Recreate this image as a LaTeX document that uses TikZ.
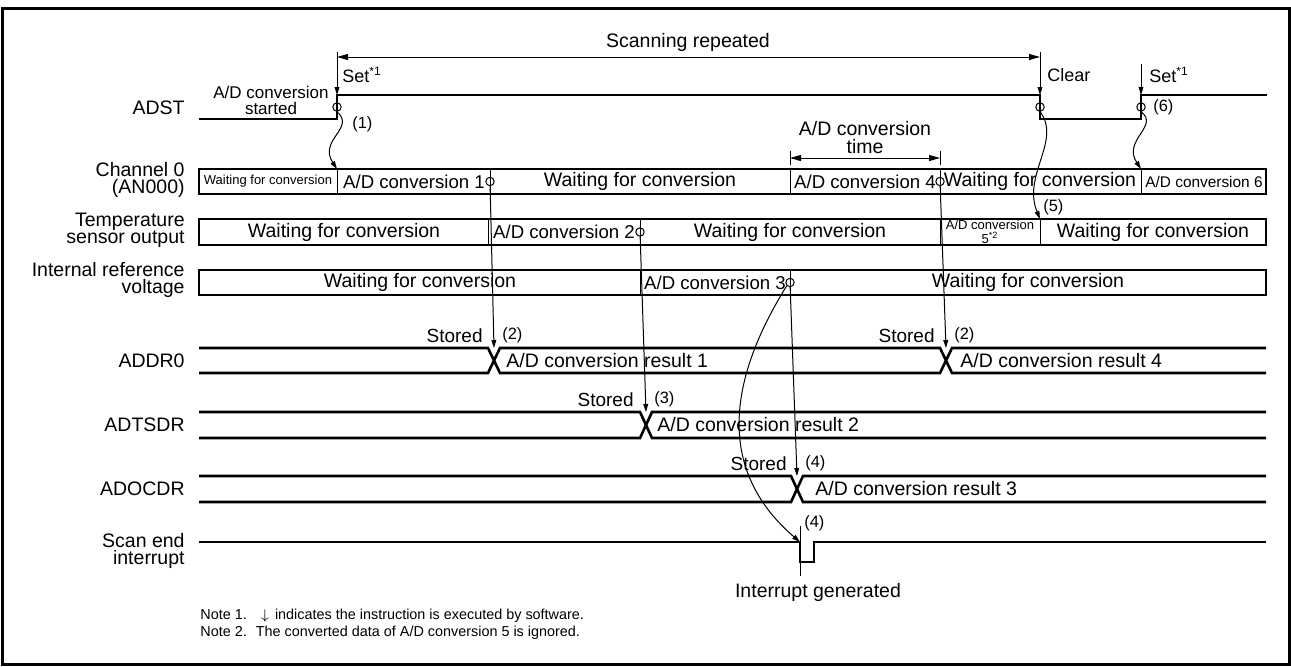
\documentclass[tikz,border=0pt]{standalone}
\usepackage{fontspec}
\setmainfont{Liberation Sans}
\usetikzlibrary{arrows.meta,positioning}
\tikzset{
  sig/.style={line width=1.3pt},
  lane/.style={draw,line width=1.3pt},
  div/.style={line width=0.5pt},
  ring/.style={circle,draw,line width=0.5pt,inner sep=0pt,minimum size=4.2pt},
  fl/.style={-{Triangle[length=4pt,width=2.4pt]},line width=0.5pt},
  dimspan/.style={{Triangle[length=5.5pt,width=3pt]}-{Triangle[length=5.5pt,width=3pt]},line width=0.5pt},
  sname/.style={anchor=east,align=right,inner sep=0pt,font=\fontsize{9.75}{8.5}\selectfont},
  tbig/.style={inner sep=0pt,font=\fontsize{9.75}{9}\selectfont},
  tmid/.style={inner sep=0pt,font=\fontsize{9.3}{11}\selectfont},
  tsml/.style={inner sep=0pt,font=\fontsize{6.5}{5.5}\selectfont,align=center},
  tnum/.style={inner sep=0pt,font=\fontsize{8.2}{10}\selectfont,anchor=west},
  tset/.style={inner sep=0pt,font=\fontsize{9}{10}\selectfont,anchor=west},
  tstore/.style={inner sep=0pt,font=\fontsize{9.5}{10}\selectfont,anchor=east},
  tnote/.style={inner sep=0pt,font=\fontsize{7.2}{9}\selectfont,anchor=west},
}
\begin{document}
\begin{tikzpicture}[x=0.5pt,y=-0.5pt]
  \useasboundingbox (0,0) rectangle (1291,666);
  \draw[line width=1.5pt] (2,8) rectangle (1289,664);

  % signal names
  \node[sname] (nADST) at (185,108) {ADST};
  \node[sname] (nCH0) at (185,180) {Channel 0\\(AN000)};
  \node[sname] (nTS) at (185,230) {Temperature\\sensor output};
  \node[sname] (nREF) at (185,280) {Internal reference\\voltage};
  \node[sname] (nDR0) at (185,361) {ADDR0};
  \node[sname] (nTSDR) at (185,425) {ADTSDR};
  \node[sname] (nOCDR) at (185,489) {ADOCDR};
  \node[sname] (nSCAN) at (185,551) {Scan end\\interrupt};

  % ADST and software actions
  \draw[sig] (199,119) -- (337,119) -- (337,95) -- (1040,95) -- (1040,119)
    -- (1141,119) -- (1141,95) -- (1267,95);
  \coordinate (setA) at (337,52);  \coordinate (riseA) at (337,95);
  \coordinate (clrB) at (1040,52); \coordinate (fallB) at (1040,95);
  \coordinate (setC) at (1141,64); \coordinate (riseC) at (1141,95);
  \draw[fl] (setA) -- (riseA);
  \draw[fl] (clrB) -- (fallB);
  \draw[fl] (setC) -- (riseC);
  \coordinate (scanL) at (337,57); \coordinate (scanR) at (1040,57);
  \draw[dimspan] (scanL) -- (scanR);
  \node[tbig] (scan) at (688,42) {Scanning repeated};
  \node[tset] (set1) at (342,75) {Set\textsuperscript{*1}};
  \node[tset] (clr) at (1047,75) {Clear};
  \node[tset] (set2) at (1149,75) {Set\textsuperscript{*1}};
  \node[inner sep=0pt,align=center,font=\fontsize{8.5}{8}\selectfont] (start) at (271,100)
    {A/D conversion\\started};
  \node[ring] (r1) at (337,107) {};
  \node[ring] (r5) at (1040,107) {};
  \node[ring] (r6) at (1141,107) {};
  \node[tnum] at (352,124) {(1)};
  \node[tnum] at (1043,207) {(5)};
  \node[tnum] at (1153,107) {(6)};

  % conversion time
  \node[tbig,align=center] (ctime) at (865,138) {A/D conversion\\time};
  \coordinate (tL) at (790,158); \coordinate (tR) at (940,158);
  \draw[dimspan] (tL) -- (tR);
  \draw[div] (tL) ++(0,-7) -- ++(0,14) (tR) ++(0,-7) -- ++(0,14);

  % channel rows
  \draw[div] (337,169) -- (337,194) (490,169) -- (490,194) (790,169) -- (790,194)
    (940,169) -- (940,194) (1141,169) -- (1141,194);
  \draw[div] (488,219) -- (488,245) (640,219) -- (640,245) (940,219) -- (940,245)
    (1040,219) -- (1040,245);
  \draw[div] (640,270) -- (640,295) (790,270) -- (790,295);
  \draw[lane] (199,169) rectangle (1266,194);
  \draw[lane] (199,219) rectangle (1266,245);
  \draw[lane] (199,270) rectangle (1266,295);
  \coordinate (ch0a) at (337,169); \coordinate (ch0f) at (1141,169);
  \coordinate (tsE) at (1040,219);

  \node[tsml] (w0) at (268,181.5) {Waiting for conversion};
  \node[tmid] (cv1) at (414,181.5) {A/D conversion 1};
  \node[tbig] (w1) at (640,181.5) {Waiting for conversion};
  \node[tmid] (cv4) at (865,181.5) {A/D conversion 4};
  \node[tbig] (w2) at (1040,181.5) {Waiting for conversion};
  \node[inner sep=0pt,font=\fontsize{7.7}{9}\selectfont] (cv6) at (1204,181.5) {A/D conversion 6};

  \node[tbig] (w3) at (344,232) {Waiting for conversion};
  \node[tmid] (cv2) at (564,232) {A/D conversion 2};
  \node[tbig] (w4) at (790,232) {Waiting for conversion};
  \node[tsml] (cv5) at (990,232) {A/D conversion\\5\textsuperscript{*2}};
  \node[tbig] (w5) at (1153,232) {Waiting for conversion};

  \node[tbig] (w6) at (420,282.5) {Waiting for conversion};
  \node[tmid] (cv3) at (715,282.5) {A/D conversion 3};
  \node[tbig] (w7) at (1028,282.5) {Waiting for conversion};

  \node[ring] (e1) at (490,181.5) {};
  \node[ring] (e2) at (640,232) {};
  \node[ring] (e3) at (790,282.5) {};
  \node[ring] (e4) at (940,181.5) {};

  % result registers
  \draw[sig] (199,348) -- (488,348) -- (500,373) -- (940,373) -- (952,348) -- (1266,348);
  \draw[sig] (199,373) -- (488,373) -- (500,348) -- (940,348) -- (952,373) -- (1266,373);
  \draw[sig] (199,412) -- (640,412) -- (652,438) -- (1266,438);
  \draw[sig] (199,438) -- (640,438) -- (652,412) -- (1266,412);
  \draw[sig] (199,476) -- (791,476) -- (803,502) -- (1266,502);
  \draw[sig] (199,502) -- (791,502) -- (803,476) -- (1266,476);
  \coordinate (xr1) at (494,348); \coordinate (xr4) at (946,348);
  \coordinate (xr2) at (646,412); \coordinate (xr3) at (797,476);

  \node[tbig,anchor=west] (res1) at (506,360.5) {A/D conversion result 1};
  \node[tbig,anchor=west] (res4) at (960,360.5) {A/D conversion result 4};
  \node[tbig,anchor=west] (res2) at (657,425) {A/D conversion result 2};
  \node[tbig,anchor=west] (res3) at (815,489) {A/D conversion result 3};

  \node[tstore] (st1) at (483,336) {Stored}; \node[tnum] at (502,335) {(2)};
  \node[tstore] (st4) at (935,336) {Stored}; \node[tnum] at (954,335) {(2)};
  \node[tstore] (st2) at (634,400) {Stored}; \node[tnum] at (654,399) {(3)};
  \node[tstore] (st3) at (787,464) {Stored}; \node[tnum] at (805,463) {(4)};

  % scan end interrupt
  \draw[sig] (199,542) -- (800,542) -- (800,562) -- (814,562) -- (814,542) -- (1266,542);
  \coordinate (intA) at (800,542);
  \draw[div] (800,526) -- (800,576);
  \node[tnum] at (804,523) {(4)};
  \node[tbig] (irq) at (818,592) {Interrupt generated};

  % transfers
  \draw[fl] (r1.south) .. controls (356,128) and (318,140) .. (ch0a);
  \draw[fl] (r5.south) .. controls (1062,140) and (1022,175) .. (tsE);
  \draw[fl] (r6.south) .. controls (1160,126) and (1122,140) .. (ch0f);
  \draw[fl] (e1) -- (xr1);
  \draw[fl] (e2) -- (xr2);
  \draw[fl] (e4) -- (xr4);
  \draw[fl] (e3) -- (xr3);
  \draw[fl] (e3.south west) .. controls (722,390) and (722,475) .. (intA);

  % notes
  \node[tnote] (note1) at (200,616) {Note 1.\hspace{7pt}$\downarrow$\hspace{3pt}indicates the instruction is executed by software.};
  \node[tnote] (note2) at (200,633) {Note 2.\hspace{4.5pt}The converted data of A/D conversion 5 is ignored.};
\end{tikzpicture}
\end{document}
